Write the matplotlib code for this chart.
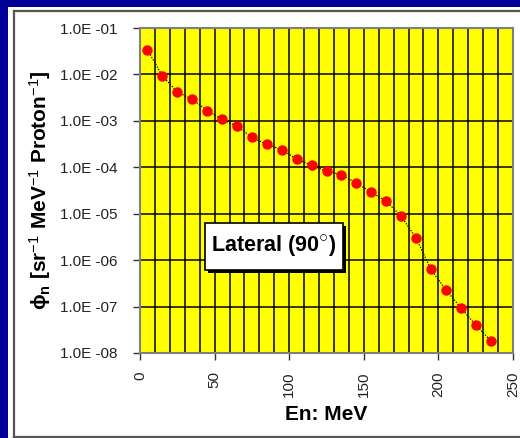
import numpy as np
import matplotlib
matplotlib.use('Agg')
import matplotlib.pyplot as plt
from matplotlib.patches import Rectangle
from matplotlib.lines import Line2D

plt.rcParams['font.family'] = ['Liberation Sans', 'DejaVu Sans']
plt.rcParams['mathtext.fontset'] = 'custom'
plt.rcParams['mathtext.rm'] = 'Liberation Sans'
plt.rcParams['mathtext.bf'] = 'Liberation Sans:bold'
plt.rcParams['mathtext.it'] = 'Liberation Sans:italic'

# Data
energy = [5, 15, 25, 35, 45, 55, 65, 75, 85, 95, 105, 115,
          125, 135, 145, 155, 165, 175, 185, 195, 205, 215, 225, 235]
flux = [3.4e-2, 9.3e-3, 4.2e-3, 2.9e-3, 1.67e-3, 1.07e-3, 7.7e-4, 4.4e-4,
        3.1e-4, 2.4e-4, 1.5e-4, 1.1e-4, 8.3e-5, 6.9e-5, 4.6e-5, 2.9e-5,
        1.85e-5, 8.9e-6, 3.0e-6, 6.3e-7, 2.3e-7, 9.5e-8, 4.0e-8, 1.85e-8]

xticks = [0, 50, 100, 150, 200, 250]
xgrid = list(range(0, 251, 10))
yticks = [1e-8, 1e-7, 1e-6, 1e-5, 1e-4, 1e-3, 1e-2, 1e-1]
ytick_labels = ['1.0E -08', '1.0E -07', '1.0E -06', '1.0E -05',
                '1.0E -04', '1.0E -03', '1.0E -02', '1.0E -01']

W, H = 520, 438
fig = plt.figure(figsize=(W / 100, H / 100), dpi=100)
fig.patch.set_facecolor('white')

# blue slide background strips and panel border
blue = '#000099'
fig.add_artist(Rectangle((0, 0), 8 / W, 1, transform=fig.transFigure,
                         facecolor=blue, edgecolor='none'))
fig.add_artist(Rectangle((0, 1 - 7 / H), 1, 7 / H, transform=fig.transFigure,
                         facecolor=blue, edgecolor='none'))
for xs, ys in [([14 / W, 1], [1 - 11 / H, 1 - 11 / H]),
               ([14 / W, 14 / W], [1 - 11 / H, 1 - 437 / H]),
               ([14 / W, 1], [1 - 437 / H, 1 - 437 / H])]:
    fig.add_artist(Line2D(xs, ys, transform=fig.transFigure,
                          color='#555555', lw=1.6))

ax = fig.add_axes([140 / W, 1 - 353 / H, 373 / W, 325 / H])
ax.set_facecolor('#ffff00')
ax.set_yscale('log')
ax.set_xlim(0, 250)
ax.set_ylim(1e-8, 1e-1)

# grid
for gx in xgrid:
    ax.axvline(gx, color='black', lw=1.1, zorder=1)
for gy in yticks:
    ax.axhline(gy, color='black', lw=1.1, zorder=1)

ax.plot(energy, flux, linestyle=(0, (1, 1.2)), color='black', lw=0.9, zorder=2)
ax.plot(energy, flux, 'o', color='red', markersize=7.5, markeredgewidth=0, zorder=3)

ax.set_xticks(xticks)
ax.set_xticklabels([str(t) for t in xticks], rotation=90, fontsize=11, color='#222222')
ax.set_yticks(yticks)
ax.set_yticklabels(ytick_labels, fontsize=11, color='#222222')
ax.minorticks_off()
ax.tick_params(direction='out', length=5, width=1, color='#333333')
ax.tick_params(axis='y', pad=11)
ax.tick_params(axis='x', pad=8)

for s in ax.spines.values():
    s.set_color('#808080')
    s.set_linewidth(1.5)

ax.set_xlabel('En: MeV', fontsize=15, fontweight='bold', labelpad=6)
fig.text(40 / W, 1 - 190 / H,
         r'$\mathbf{\phi_n}$ [sr$^{-1}$ MeV$^{-1}$ Proton$^{-1}$]',
         rotation=90, fontsize=15, fontweight='bold', ha='center', va='center')

# annotation box with shadow
bx0, bx1 = (205 - 140) / 373, (343 - 140) / 373
by0, by1 = (353 - 270) / 325, (353 - 223) / 325
sdx, sdy = 3 / 373, 3 / 325
ax.add_patch(Rectangle((bx0 + sdx, by0 - sdy), bx1 - bx0, by1 - by0,
                       transform=ax.transAxes, facecolor='black',
                       edgecolor='none', zorder=4))
ax.add_patch(Rectangle((bx0, by0), bx1 - bx0, by1 - by0,
                       transform=ax.transAxes, facecolor='white',
                       edgecolor='black', lw=1.2, zorder=5))
ax.text((bx0 + bx1) / 2, (by0 + by1) / 2, 'Lateral (90$^{\\bigcirc}$)',
        transform=ax.transAxes, ha='center', va='center',
        fontsize=15.5, fontweight='bold', zorder=6)

fig.savefig('out.png', dpi=100, facecolor=fig.get_facecolor())
